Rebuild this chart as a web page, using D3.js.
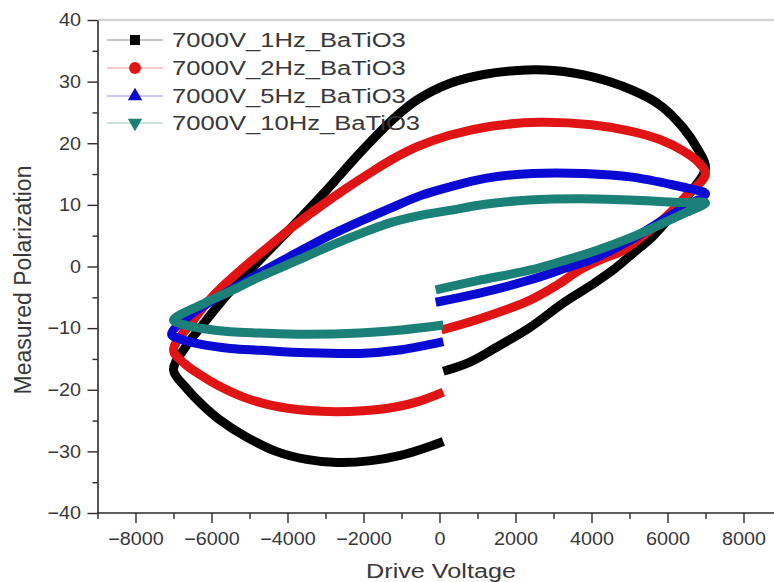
<!DOCTYPE html>
<html>
<head>
<meta charset="utf-8">
<script src="https://cdn.jsdelivr.net/npm/d3@7"></script>
<style>
  html, body { margin: 0; padding: 0; background: #fff; }
  svg { display: block; }
  text { font-family: "Liberation Sans", Arial, Helvetica, sans-serif; }
</style>
</head>
<body>
<svg id="chart" width="774" height="582"></svg>
<script>
// ---------------- data ----------------
const seriesNames = ["7000V_1Hz_BaTiO3", "7000V_2Hz_BaTiO3", "7000V_5Hz_BaTiO3", "7000V_10Hz_BaTiO3"];
const seriesColors = ["#000000", "#e01414", "#0a0ad2", "#1a8078"];
const seriesSymbols = ["square", "circle", "triangle", "triangleDown"];

// [drive voltage, measured polarization] in recorded order
const loop1Hz = [
  [100,-17.0],[800,-15.5],[1500,-13.1],[2400,-9.8],[3240,-6.0],[4000,-3.0],[4560,-0.6],[5100,2.2],[5600,4.8],[6100,8.2],[6600,12.0],[7000,16.0],
  [6800,19.0],[6400,22.6],[5800,26.2],[5080,28.6],[4000,30.8],[3000,31.8],[2300,31.9],[1200,31.2],[263,29.7],[-600,27.0],[-1240,23.8],[-2100,18.4],[-2970,12.4],[-3870,6.5],[-4740,1.0],[-5200,-2.0],[-5700,-5.4],[-6200,-9.2],[-6700,-13.2],[-7000,-16.8],
  [-6650,-19.8],[-6300,-22.1],[-5800,-24.8],[-5100,-27.6],[-4300,-30.0],[-3500,-31.3],[-2700,-31.8],[-1800,-31.5],[-1000,-30.6],[-400,-29.5],[100,-28.4]
];
const loop2Hz = [
  [50,-10.3],[1000,-8.6],[2370,-5.5],[3100,-3.0],[3680,-0.6],[4200,1.0],[4820,2.6],[5400,5.2],[6000,8.3],[6500,11.5],[7000,15.0],
  [6800,17.0],[6400,18.8],[5800,20.6],[5080,21.9],[4000,23.0],[2630,23.4],[1400,22.8],[263,21.3],[-600,19.4],[-1240,17.4],[-1800,15.3],[-2450,12.7],[-3150,9.7],[-3870,6.4],[-4500,3.2],[-5180,-0.3],[-5650,-2.9],[-6050,-5.4],[-6500,-8.9],[-7000,-13.6],
  [-6700,-15.8],[-6320,-17.5],[-5800,-19.4],[-5070,-21.4],[-4200,-22.8],[-3100,-23.5],[-2000,-23.4],[-1160,-22.8],[-500,-21.8],[100,-20.4]
];
const loop5Hz = [
  [-100,-5.8],[1000,-4.4],[2370,-2.2],[3300,-0.3],[4130,1.5],[5000,4.2],[5870,7.5],[6500,9.8],[7000,11.8],
  [6700,12.5],[6400,12.9],[5080,14.5],[3800,15.1],[2450,15.1],[1200,14.3],[263,12.9],[-500,11.5],[-1240,9.6],[-2100,7.3],[-2970,4.8],[-3850,1.9],[-4740,-1.1],[-5600,-4.2],[-6500,-7.6],[-7050,-11.0],
  [-6800,-11.8],[-6300,-12.6],[-5500,-13.3],[-4700,-13.6],[-3500,-14.0],[-2100,-14.1],[-1000,-13.5],[100,-12.2]
];
const loop10Hz = [
  [-100,-3.8],[1000,-2.3],[2370,-0.6],[3300,1.0],[4130,2.6],[5000,4.6],[5870,7.0],[6500,8.8],[7000,10.3],
  [6300,10.4],[5000,10.8],[3700,11.0],[2370,10.8],[1200,10.1],[263,9.1],[-500,8.3],[-1240,7.2],[-2100,5.3],[-2970,3.1],[-3850,0.7],[-4740,-1.7],[-5500,-4.0],[-6200,-6.0],[-7000,-8.7],
  [-6700,-9.5],[-6200,-10.1],[-5500,-10.6],[-4740,-10.8],[-3500,-11.0],[-2100,-10.8],[-1000,-10.3],[100,-9.5]
];
const loops = [loop1Hz, loop2Hz, loop5Hz, loop10Hz];

const xTicks = [-8000, -6000, -4000, -2000, 0, 2000, 4000, 6000, 8000];
const xMinorTicks = [-9000, -7000, -5000, -3000, -1000, 1000, 3000, 5000, 7000, 9000];
const yTicks = [-40, -30, -20, -10, 0, 10, 20, 30, 40];
const yMinorTicks = [-35, -25, -15, -5, 5, 15, 25, 35];
const xTitle = "Drive Voltage";
const yTitle = "Measured Polarization";

// ---------------- layout ----------------
const svg = d3.select("#chart");
const plotLeft = 97.5, plotRight = 781.5, plotTop = 20, plotBottom = 513;
const x = d3.scaleLinear().domain([-9000, 9000]).range([plotLeft, plotRight]);
const y = d3.scaleLinear().domain([-40, 40]).range([plotBottom, plotTop]);
const axisColor = "#2a2a2a";
const labelColor = "#383838";

// top frame (light)
svg.append("line")
  .attr("x1", plotLeft).attr("x2", 774).attr("y1", plotTop).attr("y2", plotTop)
  .attr("stroke", "#d4d4d4").attr("stroke-width", 2.5);

// curves
const line = d3.line().x(d => x(d[0])).y(d => y(d[1])).curve(d3.curveCatmullRom.alpha(0.5));
loops.forEach((data, i) => {
  svg.append("path")
    .datum(data)
    .attr("d", line)
    .attr("fill", "none")
    .attr("stroke", seriesColors[i])
    .attr("stroke-width", 9)
    .attr("stroke-linejoin", "round")
    .attr("stroke-linecap", "butt");
});

// axes
function styleAxis(g) {
  g.select(".domain").attr("stroke", axisColor).attr("stroke-width", 1.6);
  g.selectAll(".tick line").attr("stroke", axisColor).attr("stroke-width", 1.4);
  g.selectAll("text").attr("fill", labelColor).style("font-size", "18px");
}
const gxMinor = svg.append("g").attr("transform", `translate(0,${plotBottom})`)
  .call(d3.axisBottom(x).tickValues(xMinorTicks).tickSize(6).tickFormat(""));
styleAxis(gxMinor);
gxMinor.select(".domain").remove();
const gx = svg.append("g").attr("transform", `translate(0,${plotBottom})`)
  .call(d3.axisBottom(x).tickValues(xTicks).tickSize(10).tickSizeOuter(0).tickPadding(9).tickFormat(d3.format("d")));
styleAxis(gx);
gx.select(".domain").attr("d", `M${plotLeft},0H774`);
gx.selectAll("text").attr("transform", "scale(1.1,1)");

const gyMinor = svg.append("g").attr("transform", `translate(${plotLeft},0)`)
  .call(d3.axisLeft(y).tickValues(yMinorTicks).tickSize(5).tickFormat(""));
styleAxis(gyMinor);
gyMinor.select(".domain").remove();
const gy = svg.append("g").attr("transform", `translate(${plotLeft},0)`)
  .call(d3.axisLeft(y).tickValues(yTicks).tickSize(10).tickSizeOuter(0).tickPadding(5).tickFormat(d3.format("d")));
styleAxis(gy);
gy.selectAll("text").attr("transform", "scale(1.1,1)");

// axis titles
svg.append("text")
  .attr("transform", `translate(441,578) scale(1.2,1)`)
  .attr("text-anchor", "middle")
  .attr("fill", labelColor)
  .style("font-size", "21px")
  .text(xTitle);
svg.append("text")
  .attr("transform", `translate(31,280) rotate(-90)`)
  .attr("text-anchor", "middle")
  .attr("fill", labelColor)
  .style("font-size", "23px")
  .text(yTitle);

// legend
const legendRowY = [40, 68, 96, 123];
const sym = {
  square: d3.symbol().type(d3.symbolSquare).size(100),
  circle: d3.symbol().type(d3.symbolCircle).size(110),
  triangle: d3.symbol().type(d3.symbolTriangle).size(90),
  triangleDown: d3.symbol().type(d3.symbolTriangle).size(90)
};
const legend = svg.append("g");
seriesNames.forEach((name, i) => {
  const row = legend.append("g").attr("transform", `translate(0,${legendRowY[i]})`);
  row.append("line").attr("x1", 107).attr("x2", 163).attr("y1", 0).attr("y2", 0)
    .attr("stroke", seriesColors[i]).attr("stroke-opacity", 0.3).attr("stroke-width", 1.5);
  row.append("path")
    .attr("d", sym[seriesSymbols[i]]())
    .attr("transform", `translate(135,0)` + (seriesSymbols[i] === "triangleDown" ? " rotate(180)" : ""))
    .attr("fill", seriesColors[i]);
  row.append("text")
    .attr("transform", `translate(172,7) scale(1.28,1)`)
    .attr("fill", labelColor)
    .style("font-size", "20px")
    .text(name);
});
</script>
</body>
</html>
